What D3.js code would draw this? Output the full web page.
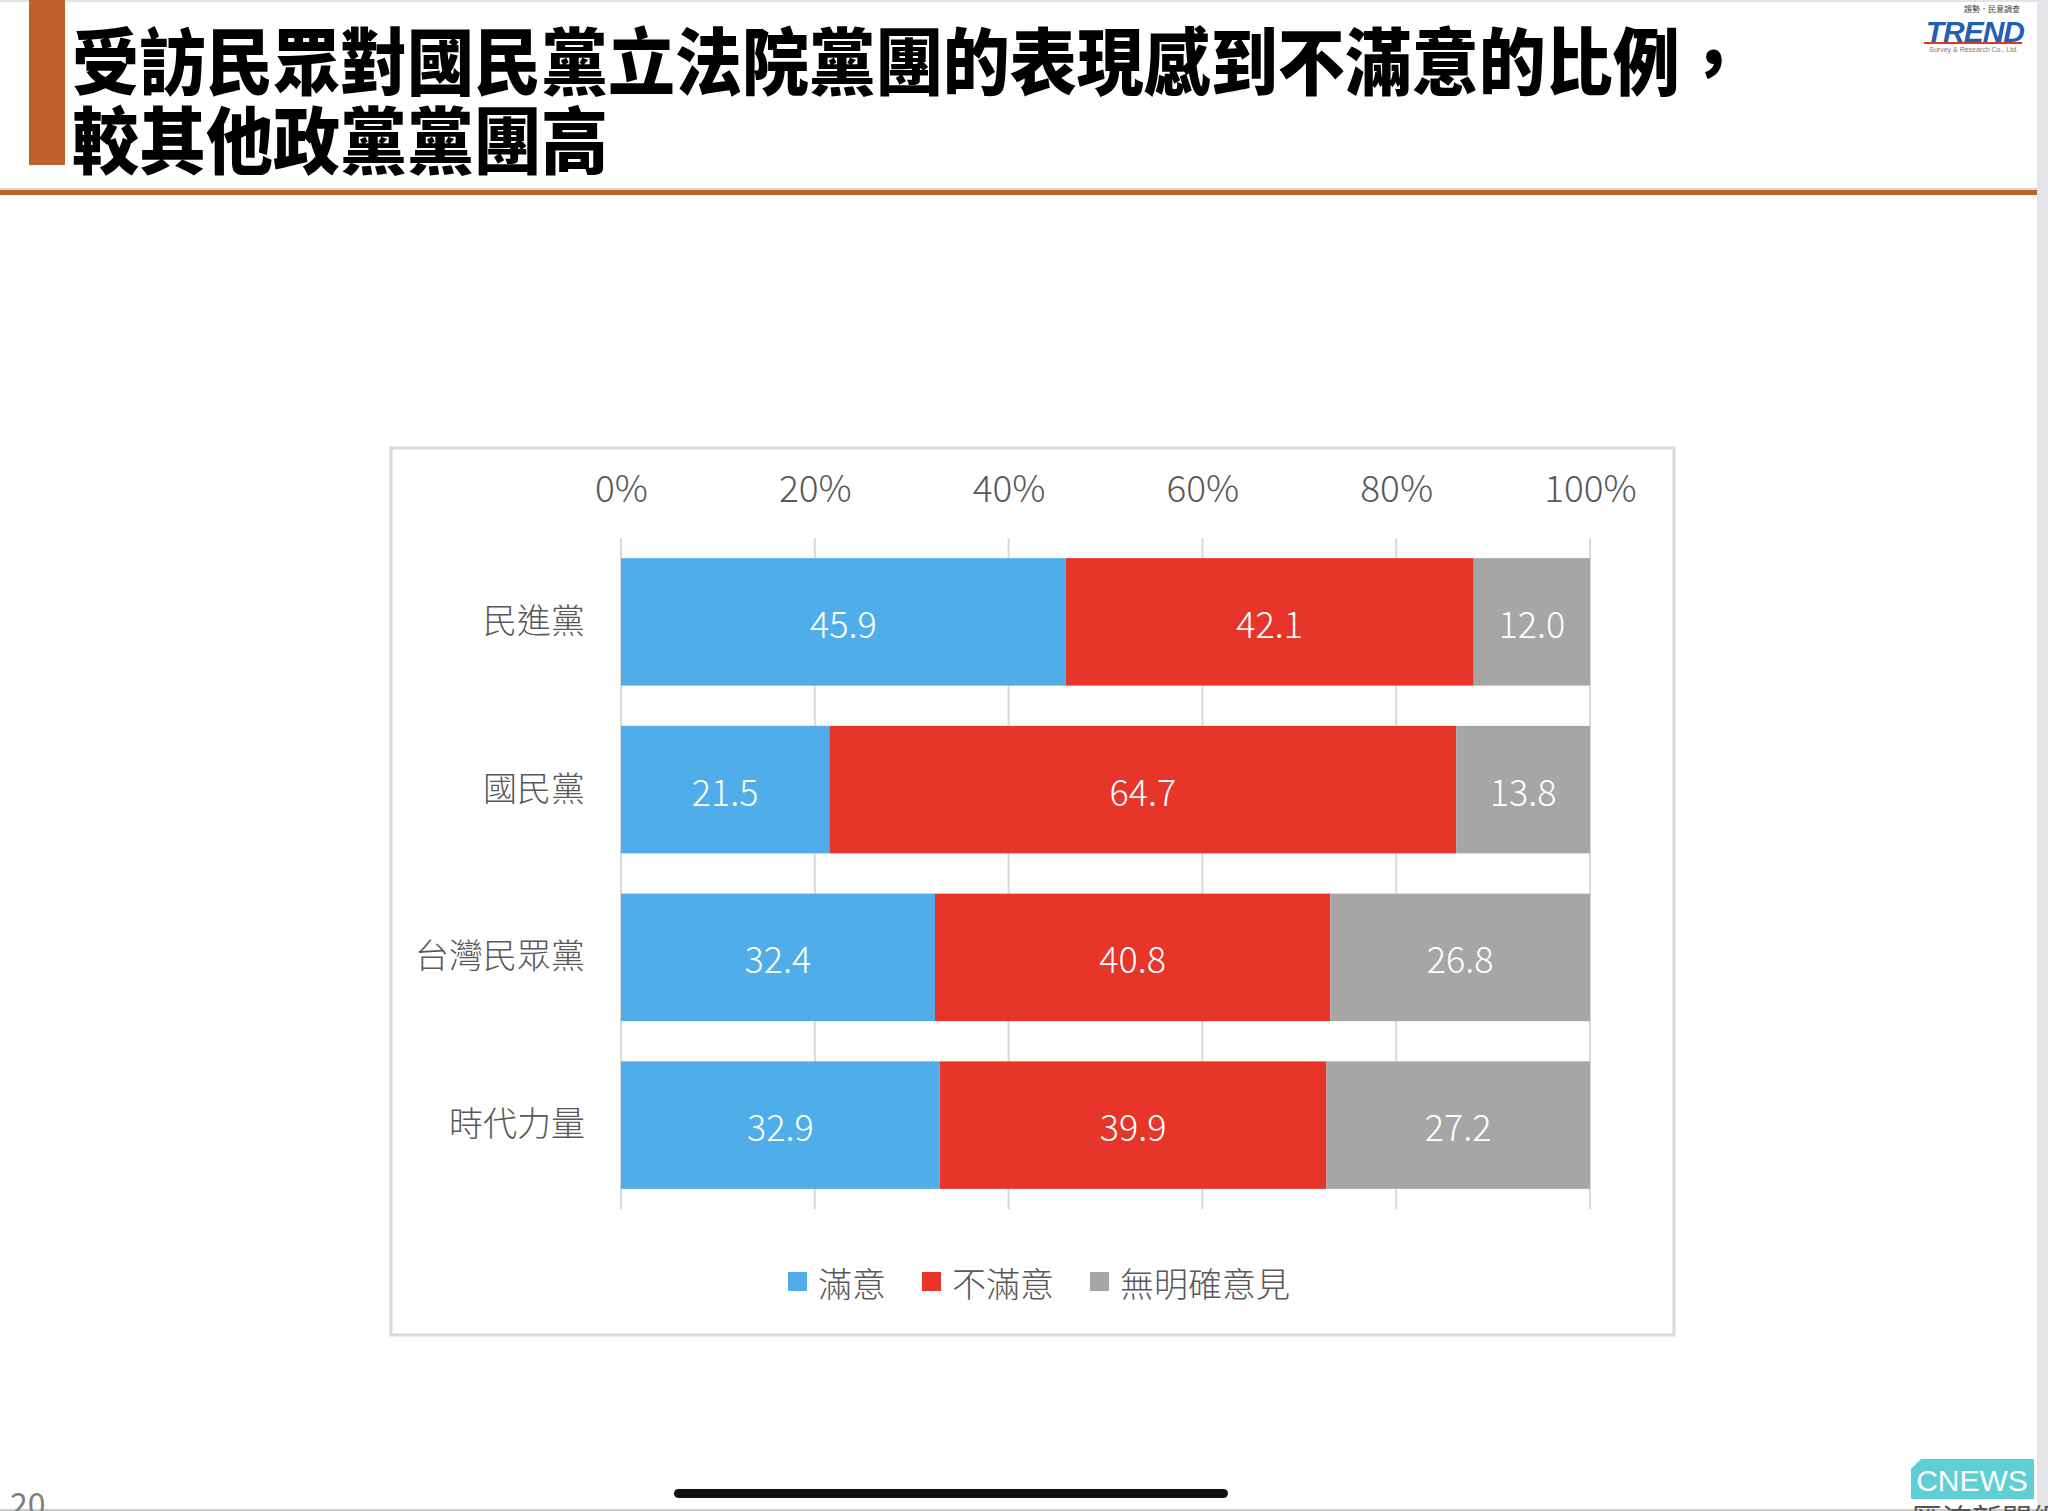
<!DOCTYPE html>
<html><head><meta charset="utf-8">
<script src="https://cdn.jsdelivr.net/npm/d3@7"></script>
<style>html,body{margin:0;padding:0;background:#fff;overflow:hidden}svg{display:block}</style>
</head><body>
<svg id="chart" width="2048" height="1511"></svg>
<script>
const categories = ["民進黨","國民黨","台灣民眾黨","時代力量"];
const satisfied = [45.9, 21.5, 32.4, 32.9];
const dissatisfied = [42.1, 64.7, 40.8, 39.9];
const noOpinion = [12.0, 13.8, 26.8, 27.2];
const seriesNames = ["滿意","不滿意","無明確意見"];
const seriesColors = ["#4FADEA","#E8352A","#A6A6A6"];
const tickValues = [0,20,40,60,80,100];
const titleLines = ["受訪民眾對國民黨立法院黨團的表現感到不滿意的比例，","較其他政黨黨團高"];

const svg = d3.select("#chart");
const FONT = "'Noto Sans CJK TC','Noto Sans',sans-serif";

// slide background & edges
svg.append("rect").attr("x",0).attr("y",0).attr("width",2048).attr("height",1511).attr("fill","#fff");
svg.append("rect").attr("x",0).attr("y",0).attr("width",2048).attr("height",2).attr("fill","#e4e4e8");
svg.append("rect").attr("x",2037).attr("y",0).attr("width",11).attr("height",1511).attr("fill","#e6e6ea");
svg.append("rect").attr("x",0).attr("y",1509).attr("width",2048).attr("height",2).attr("fill","#c8c8c8");

// title
svg.append("rect").attr("x",29).attr("y",0).attr("width",36).attr("height",165).attr("fill","#C0612B");
svg.append("rect").attr("x",0).attr("y",188).attr("width",2037).attr("height",2).attr("fill","#d8d8d8");
svg.append("rect").attr("x",0).attr("y",190).attr("width",2037).attr("height",5).attr("fill","#C0612B");
svg.selectAll("text.title").data(titleLines).join("text")
  .attr("class","title")
  .attr("transform",(d,i)=>`translate(72,${89+i*79}) scale(1,1.08)`)
  .attr("font-family",FONT).attr("font-weight",900).attr("font-size",67)
  .attr("fill","#000").text(d=>d);

// TREND logo
const logo = svg.append("g");
logo.append("text").attr("x",2020).attr("y",12).attr("text-anchor","end")
  .attr("font-family",FONT).attr("font-size",8).attr("fill","#444").text("趨勢．民意調查");
logo.append("text").attr("x",2024).attr("y",42).attr("text-anchor","end")
  .attr("font-family","'Liberation Sans',Arial,sans-serif").attr("font-weight",700).attr("font-style","italic")
  .attr("font-size",30).attr("fill","#1F5FB4").attr("letter-spacing",-1).text("TREND");
logo.append("rect").attr("x",1924).attr("y",42).attr("width",98).attr("height",2).attr("fill","#D9382E");
logo.append("text").attr("x",2018).attr("y",52).attr("text-anchor","end")
  .attr("font-family","'Liberation Sans',Arial,sans-serif").attr("font-size",7).attr("fill","#777").text("Survey & Research Co., Ltd.");

// chart frame
svg.append("rect").attr("x",391).attr("y",448).attr("width",1283).attr("height",887)
  .attr("fill","#fff").attr("stroke","#d9d9d9").attr("stroke-width",3);

const x = d3.scaleLinear().domain([0,100]).range([621,1590]);
const y = d3.scaleBand().domain(categories).range([538,1209]).paddingInner(0.24).paddingOuter(0.12);

// gridlines
svg.append("g").selectAll("line").data(tickValues).join("line")
  .attr("x1",d=>x(d)).attr("x2",d=>x(d)).attr("y1",538).attr("y2",1209)
  .attr("stroke","#d9d9d9").attr("stroke-width",2);

// top axis labels
const axis = d3.axisTop(x).tickValues(tickValues).tickFormat(d=>d+"%").tickSize(0);
const ag = svg.append("g").attr("transform","translate(0,505)").call(axis);
ag.select(".domain").remove();
ag.selectAll("text").attr("font-family",FONT).attr("font-weight",300).attr("font-size",37).attr("fill","#595959");

// stacked data
const rows = categories.map((c,i)=>({cat:c, values:[satisfied[i],dissatisfied[i],noOpinion[i]]}));
const segs = [];
rows.forEach(r=>{ let acc=0; r.values.forEach((v,j)=>{ segs.push({cat:r.cat,j,v,x0:acc,x1:acc+v}); acc+=v; }); });

svg.append("g").selectAll("rect").data(segs).join("rect")
  .attr("x",d=>x(d.x0)).attr("width",d=>x(d.x1)-x(d.x0))
  .attr("y",d=>y(d.cat)).attr("height",y.bandwidth())
  .attr("fill",d=>seriesColors[d.j]);

svg.append("g").selectAll("text").data(segs).join("text")
  .attr("x",d=>(x(d.x0)+x(d.x1))/2).attr("y",d=>y(d.cat)+y.bandwidth()/2)
  .attr("text-anchor","middle").attr("dominant-baseline","central")
  .attr("font-family",FONT).attr("font-weight",300).attr("font-size",36).attr("fill","#fff")
  .text(d=>d.v.toFixed(1));

// category labels
const yAxis = d3.axisLeft(y).tickSize(0).tickPadding(0);
const yg = svg.append("g").attr("transform","translate(585,0)").call(yAxis);
yg.select(".domain").remove();
yg.selectAll("text").attr("font-family",FONT).attr("font-weight",300).attr("font-size",34).attr("fill","#595959");

// legend
const lg = svg.append("g");
let lx = 788;
seriesNames.forEach((n,i)=>{
  lg.append("rect").attr("x",lx).attr("y",1272).attr("width",19).attr("height",19).attr("fill",seriesColors[i]);
  const t = lg.append("text").attr("x",lx+30).attr("y",1282).attr("dominant-baseline","central")
    .attr("font-family",FONT).attr("font-weight",300).attr("font-size",34).attr("fill","#595959").text(n);
  lx = lx + 30 + t.node().getComputedTextLength() + 36;
});

// page number (cut off at slide bottom, as in the reference)
svg.append("text").attr("x",10).attr("y",1516).attr("font-family",FONT).attr("font-size",32).attr("fill","#7f7f7f").text("20");

// home indicator
svg.append("rect").attr("x",674).attr("y",1489).attr("width",554).attr("height",9).attr("rx",4.5).attr("fill","#111");

// CNEWS logo
svg.append("path").attr("d","M1921,1459 L2034,1459 L2034,1499 L1911,1499 L1911,1469 Z").attr("fill","#5ECFD5");
svg.append("text").attr("x",1972).attr("y",1491).attr("text-anchor","middle")
  .attr("font-family","'Liberation Sans',sans-serif").attr("font-size",30).attr("fill","#fff").text("CNEWS");
svg.append("text").attr("x",1912).attr("y",1530).attr("font-family",FONT).attr("font-size",30).attr("fill","#555").text("匯流新聞網");
</script>
</body></html>
